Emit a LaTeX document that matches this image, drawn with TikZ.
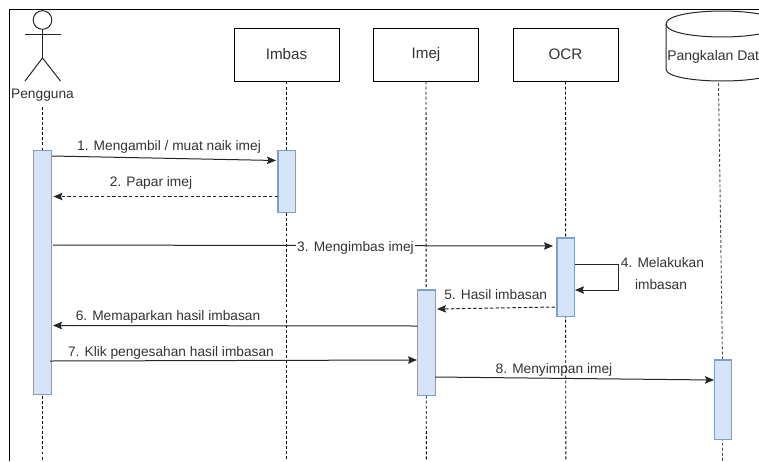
\documentclass[tikz,border=0pt]{standalone}
\usepackage{fontspec}
\setmainfont{Liberation Sans}
\usetikzlibrary{arrows.meta}
\definecolor{ink}{HTML}{333333}
\definecolor{barfill}{HTML}{D5E4F8}
\definecolor{barline}{HTML}{7C9FD0}
\tikzset{
  px/.style={x=0.75pt,y=-0.75pt},
  outline/.style={draw=black,line width=0.75pt},
  headbox/.style={outline,fill=white,rectangle,minimum width=78.75pt,minimum height=39.75pt,inner sep=0pt,text=ink,font=\fontsize{11.4pt}{13pt}\selectfont},
  lifeline/.style={draw=black,line width=0.7pt,dash pattern=on 2.2pt off 1.6pt},
  bar/.style={draw=barline,fill=barfill,line width=0.8pt,rectangle,minimum width=13.2pt,inner sep=0pt},
  msg/.style={draw=black!85,line width=0.75pt,-{Stealth[length=6.8pt,width=5.6pt,inset=1.2pt]}},
  ret/.style={msg,dash pattern=on 2.6pt off 1.6pt},
  lbl/.style={text=ink,inner sep=0pt,font=\fontsize{10.3pt}{12pt}\selectfont},
  limb/.style={draw=black!85,line width=0.75pt},
}
\begin{document}
\begin{tikzpicture}[px]
\useasboundingbox (0,0) rectangle (759,461);
\fill[white] (0,0) rectangle (759,461);
\clip (0,0) rectangle (759,461);
% frame
\coordinate (fa) at (9.5,461);
\coordinate (fb) at (9.5,9.5);
\coordinate (fc) at (759,9.5);
\draw[outline] (fa) -- (fb) -- (fc);
% lifeline reference points
\coordinate (pTop) at (42.5,107);
\coordinate (pEnd) at (42.5,461);
\coordinate (iEnd) at (286.5,461);
\coordinate (jEnd) at (426.3,461);
\coordinate (oEnd) at (565.8,461);
\coordinate (dTop) at (718.5,83);
\coordinate (dEnd) at (722.5,461);
\coordinate (dMid) at (722.5,360);
% headers
\node[headbox] (imbas) at (286.5,54.5) {Imbas};
\node[headbox] (imej)  at (426,54.5) {Imej};
\node[headbox] (ocr)   at (565.5,54.5) {OCR};
% lifelines
\draw[lifeline] (pTop) -- (pEnd);
\draw[lifeline] (imbas.south) -- (iEnd);
\draw[lifeline] (imej.south) -- (jEnd);
\draw[lifeline] (ocr.south) -- (oEnd);
\draw[lifeline,draw=black!70] (dTop) -- (dMid) -- (dEnd);
% actor
\node[circle,draw=black!85,line width=0.75pt,fill=white,minimum size=14pt,inner sep=0pt] (head) at (42.5,20) {};
\coordinate (armL) at (25,34);
\coordinate (armR) at (60.5,34);
\coordinate (hip) at (42.5,58);
\coordinate (legL) at (25,81);
\coordinate (legR) at (60.5,81);
\draw[limb] (head.south) -- (hip);
\draw[limb] (armL) -- (armR);
\draw[limb] (legL) -- (hip) -- (legR);
\node[lbl] (actor) at (42.5,95.5) {Pengguna};
% database
\coordinate (cylL) at (666,24);
\draw[draw=black!85,line width=0.75pt,fill=white]
  (666,24) .. controls (666,6.7) and (778,6.7) .. (778,24)
  -- (778,69) .. controls (778,85) and (666,85) .. (666,69) -- cycle;
\draw[draw=black!85,line width=0.75pt] (cylL) .. controls (666,41.3) and (778,41.3) .. (778,24);
\node[lbl,anchor=west,font=\fontsize{10.5pt}{12pt}\selectfont] (db) at (667,57) {Pangkalan Dat};
% activation bars
\node[bar,minimum height=183.5pt] (barP) at (42.5,272.5) {};
\node[bar,minimum height=46.5pt] (barI) at (286.8,181.3) {};
\node[bar,minimum height=59pt] (barO) at (565.8,277.3) {};
\node[bar,minimum height=78.8pt] (barJ) at (426.3,342.5) {};
\node[bar,minimum height=59.3pt] (barD) at (723,399.5) {};
% message end points
\coordinate (m1a) at (52,156);   \coordinate (m1b) at (276,160.5);
\coordinate (m2a) at (278,196.5);\coordinate (m2b) at (53.5,196.5);
\coordinate (m3a) at (53,245);   \coordinate (m3b) at (553,246);
\coordinate (m4a) at (574.5,264);\coordinate (m4c) at (618.5,264);
\coordinate (m4d) at (618.5,290);\coordinate (m4b) at (575,290);
\coordinate (m5a) at (555,307);  \coordinate (m5b) at (437,309);
\coordinate (m6a) at (417.5,326);\coordinate (m6b) at (53,325.5);
\coordinate (m7a) at (50,361);   \coordinate (m7b) at (417,360);
\coordinate (m8a) at (435,377);  \coordinate (m8b) at (714,380);
% messages
\draw[msg] (m1a) -- (m1b);
\draw[ret] (m2a) -- (m2b);
\draw[msg] (m3a) -- node[lbl,fill=white,inner xsep=1.2pt,inner ysep=1pt,pos=0.605,yshift=-1.5pt] (l3) {3. Mengimbas imej} (m3b);
\draw[msg] (m4a) -- (m4c) -- (m4d) -- (m4b);
\draw[ret] (m5a) -- (m5b);
\draw[msg] (m6a) -- (m6b);
\draw[msg] (m7a) -- (m7b);
\draw[msg] (m8a) -- (m8b);
% labels
\node[lbl] (l1) at (169,147) {1. Mengambil / muat naik imej};
\node[lbl] (l2) at (151,182.5) {2. Papar imej};
\node[lbl,anchor=west] (l4a) at (620.7,263) {4. Melakukan};
\node[lbl] (l4b) at (661,284.5) {imbasan};
\node[lbl] (l5) at (495.7,295) {5. Hasil imbasan};
\node[lbl] (l6) at (168,317) {6. Memaparkan hasil imbasan};
\node[lbl] (l7) at (171,352.5) {7. Klik pengesahan hasil imbasan};
\node[lbl] (l8) at (554,369.5) {8. Menyimpan imej};
\end{tikzpicture}
\end{document}
